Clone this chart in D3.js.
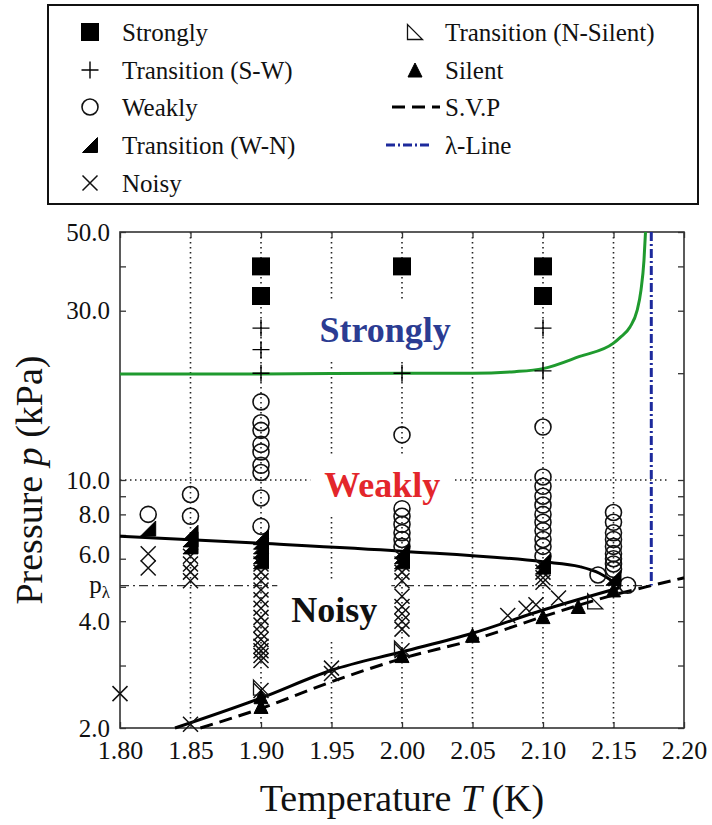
<!DOCTYPE html>
<html>
<head>
<meta charset="utf-8">
<script src="https://cdn.jsdelivr.net/npm/d3@7"></script>
<style>
  body { margin: 0; background: #fff; }
  text { font-family: "Liberation Serif", "DejaVu Serif", serif; }
</style>
</head>
<body>
<svg id="chart" width="712" height="825"></svg>
<script>
// ---- axis ticks ----
const xTickValues = [1.80, 1.85, 1.90, 1.95, 2.00, 2.05, 2.10, 2.15, 2.20];
const xTickLabels = ["1.80", "1.85", "1.90", "1.95", "2.00", "2.05", "2.10", "2.15", "2.20"];
const yTickValues = [2, 3, 4, 5, 6, 7, 8, 9, 10, 20, 30, 40, 50];
const yLabelValues = [2, 4, 6, 8, 10, 30, 50];
const yLabelTexts = ["2.0", "4.0", "6.0", "8.0", "10.0", "30.0", "50.0"];
const gridTemps = [1.85, 1.90, 1.95, 2.00, 2.05, 2.10, 2.15];
const pLambda = 5.04;   // kPa
const tLambda = 2.1768; // K

// ---- observed regimes (T in K, p in kPa) ----
const strongT = [1.90, 1.90, 2.00, 2.10, 2.10];
const strongP = [40, 33, 40, 40, 33];

const swT = [1.90, 1.90, 1.90, 2.00, 2.10, 2.10];
const swP = [26.8, 23.3, 20.0, 20.0, 26.8, 20.3];

const weakT = [1.82, 1.85, 1.85,
  1.90, 1.90, 1.90, 1.90, 1.90, 1.90, 1.90, 1.90, 1.90,
  2.00, 2.00, 2.00, 2.00, 2.00, 2.00, 2.00,
  2.10, 2.10, 2.10, 2.10, 2.10, 2.10, 2.10, 2.10, 2.10, 2.10, 2.10,
  2.15, 2.15, 2.15, 2.15, 2.15, 2.15, 2.15, 2.15, 2.15,
  2.139, 2.16];
const weakP = [8.0, 9.1, 7.9,
  16.6, 14.5, 13.8, 12.6, 12.0, 11.0, 10.5, 8.9, 7.4,
  13.4, 8.3, 7.9, 7.5, 7.1, 6.8, 6.5,
  14.1, 10.2, 9.6, 9.0, 8.5, 8.0, 7.6, 7.2, 6.8, 6.5, 6.1,
  8.1, 7.6, 7.1, 6.8, 6.5, 6.2, 6.0, 5.8, 5.6,
  5.4, 5.05];

const wnT = [1.82, 1.85, 1.85, 1.85, 1.90, 1.90, 1.90, 1.90, 1.90, 1.90,
  2.00, 2.00, 2.00, 2.10, 2.10, 2.15];
const wnP = [7.3, 7.1, 6.8, 6.5, 6.9, 6.7, 6.5, 6.3, 6.1, 5.9,
  6.3, 6.1, 5.9, 5.9, 5.7, 5.3];

const noisyT = [1.80, 1.82, 1.82, 1.85, 1.85, 1.85, 1.85, 1.85,
  1.90, 1.90, 1.90, 1.90, 1.90, 1.90, 1.90, 1.90, 1.90, 1.90, 1.90, 1.90, 1.90, 1.90, 1.90,
  1.95, 1.95,
  2.00, 2.00, 2.00, 2.00, 2.00, 2.00, 2.00, 2.00, 2.00,
  2.075, 2.088, 2.095, 2.10, 2.10, 2.10, 2.111];
const noisyP = [2.5, 6.2, 5.65, 6.1, 5.8, 5.5, 5.2, 2.05,
  5.8, 5.5, 5.2, 4.9, 4.6, 4.35, 4.1, 3.9, 3.7, 3.55, 3.4, 3.3, 3.2, 3.1, 2.55,
  2.95, 2.85,
  5.8, 5.5, 5.2, 4.7, 4.4, 4.2, 4.0, 3.8, 3.3,
  4.15, 4.35, 4.45, 5.5, 5.3, 5.15, 4.65];

const nsT = [1.90, 2.00, 2.137];
const nsP = [2.6, 3.35, 4.55];

const silentT = [1.90, 1.90, 2.00, 2.05, 2.10, 2.125, 2.15];
const silentP = [2.45, 2.3, 3.2, 3.65, 4.12, 4.4, 4.9];

// ---- boundary curves ----
const svpT = [1.857, 1.90, 1.95, 2.00, 2.05, 2.10, 2.15, 2.1768, 2.20];
const svpP = [2.0, 2.27, 2.70, 3.14, 3.54, 4.12, 4.74, 5.04, 5.30];
const wnLineT = [1.80, 1.90, 2.00, 2.10, 2.126, 2.14, 2.15, 2.155];
const wnLineP = [6.94, 6.63, 6.30, 5.88, 5.70, 5.46, 5.16, 4.98];
const nsLineT = [1.839, 1.90, 1.95, 2.00, 2.05, 2.10, 2.155];
const nsLineP = [2.0, 2.43, 2.91, 3.28, 3.70, 4.30, 4.98];
const swLineT = [1.80, 1.90, 2.00, 2.05, 2.08, 2.10, 2.126, 2.15, 2.1546, 2.1617, 2.1667, 2.1695, 2.1716, 2.1727];
const swLineP = [19.9, 19.9, 20.0, 20.0, 20.2, 20.6, 22.3, 24.3, 25.2, 27.0, 30.0, 34.3, 41.5, 50];

const legendLeft = ["Strongly", "Transition (S-W)", "Weakly", "Transition (W-N)", "Noisy"];
const legendRight = ["Transition (N-Silent)", "Silent", "S.V.P", "λ-Line"];

// ---- layout ----
const svg = d3.select("#chart");
const plot = { left: 120, right: 684, top: 232, bottom: 728 };
const x = d3.scaleLinear().domain([1.80, 2.20]).range([plot.left, plot.right]);
const y = d3.scaleLog().domain([2, 50]).range([plot.bottom, plot.top]);

const zip = (a, b) => a.map((v, i) => [v, b[i]]);

// marker shapes
const shapes = {
  square: s => `M${-s/2},${-s/2}h${s}v${s}h${-s}Z`,
  plus: s => `M${-s/2},0H${s/2}M0,${-s/2}V${s/2}`,
  circle: s => `M${s/2},0A${s/2},${s/2} 0 1,1 ${-s/2},0A${s/2},${s/2} 0 1,1 ${s/2},0Z`,
  wedge: s => `M${-s/2},${s/2}L${s/2},${s/2}L${s/2},${-s/2}Z`,
  times: s => `M${-s/2},${-s/2}L${s/2},${s/2}M${-s/2},${s/2}L${s/2},${-s/2}`,
  openWedge: s => `M${-s/2},${-s/2}L${-s/2},${s/2}L${s/2},${s/2}Z`,
  triangle: s => `M0,${-s/2}L${s/2},${s/2}L${-s/2},${s/2}Z`
};
const styles = {
  square: { size: 18, fill: "#000", stroke: "none", sw: 0 },
  plus: { size: 17, fill: "none", stroke: "#000", sw: 1.4 },
  circle: { size: 16, fill: "none", stroke: "#111", sw: 1.6 },
  wedge: { size: 15, fill: "#000", stroke: "#000", sw: 1 },
  times: { size: 15, fill: "none", stroke: "#111", sw: 1.5 },
  openWedge: { size: 15, fill: "none", stroke: "#111", sw: 1.3 },
  triangle: { size: 14, fill: "#000", stroke: "#000", sw: 1 }
};

// ---- gridlines ----
const grid = svg.append("g");
grid.selectAll("line.vg").data(gridTemps).join("line")
  .attr("x1", d => x(d)).attr("x2", d => x(d))
  .attr("y1", plot.top).attr("y2", plot.bottom)
  .attr("stroke", "#222").attr("stroke-width", 1.6).attr("stroke-dasharray", "1.5,3.5");
grid.append("line")
  .attr("x1", x(1.80)).attr("x2", x(2.19)).attr("y1", y(10)).attr("y2", y(10))
  .attr("stroke", "#222").attr("stroke-width", 1.6).attr("stroke-dasharray", "1.5,3.5");
grid.append("line")
  .attr("x1", x(1.80)).attr("x2", x(tLambda)).attr("y1", y(pLambda)).attr("y2", y(pLambda))
  .attr("stroke", "#333").attr("stroke-width", 1.3).attr("stroke-dasharray", "9,4,2,4");

// ---- region labels on white pads ----
const regions = [
  { text: "Strongly", t: 1.988, p: 26.5, color: "#2b3c92" },
  { text: "Weakly", t: 1.986, p: 9.7, color: "#e3262b" },
  { text: "Noisy", t: 1.952, p: 4.3, color: "#111" }
];
const regionG = svg.append("g");
regions.forEach(r => {
  const t = regionG.append("text")
    .attr("x", x(r.t)).attr("y", y(r.p))
    .attr("text-anchor", "middle").attr("dominant-baseline", "central")
    .attr("font-weight", "bold").attr("font-size", 36)
    .attr("fill", r.color).text(r.text);
  const b = t.node().getBBox();
  regionG.insert("rect", "text")
    .attr("x", b.x - 14).attr("y", b.y - 10)
    .attr("width", b.width + 28).attr("height", b.height + 20)
    .attr("fill", "#fff");
});

// ---- axes ----
const fmtY = d => {
  const i = yLabelValues.indexOf(d);
  return i >= 0 ? yLabelTexts[i] : (d === 5 ? "p" : "");
};
const axisStyle = g => {
  g.select(".domain").remove();
  g.selectAll(".tick line").attr("stroke", "#333").attr("stroke-width", 1.3);
  g.selectAll(".tick text").attr("font-size", 25).attr("fill", "#111")
    .attr("font-family", "'Liberation Serif', serif");
};
svg.append("g").attr("transform", `translate(0,${plot.bottom})`)
  .call(d3.axisBottom(x).tickValues(xTickValues)
    .tickFormat((d, i) => xTickLabels[i]).tickSizeInner(-6).tickSizeOuter(0).tickPadding(13))
  .call(axisStyle)
  .selectAll(".tick text").attr("font-size", 26);
svg.append("g").attr("transform", `translate(0,${plot.top})`)
  .call(d3.axisTop(x).tickValues(xTickValues).tickFormat("").tickSizeInner(-6).tickSizeOuter(0))
  .call(axisStyle);
const yAxisG = svg.append("g").attr("transform", `translate(${plot.left},0)`)
  .call(d3.axisLeft(y).tickValues(yTickValues).tickFormat(fmtY)
    .tickSizeInner(-6).tickSizeOuter(0).tickPadding(10))
  .call(axisStyle);
yAxisG.selectAll(".tick").filter(d => d === 6).select("text").attr("dy", "0.16em");
yAxisG.selectAll(".tick").filter(d => d === 5).select("text")
  .attr("dy", "0.24em")
  .append("tspan").attr("font-size", 17).attr("dy", "0.25em").text("λ");
svg.append("g").attr("transform", `translate(${plot.right},0)`)
  .call(d3.axisRight(y).tickValues(yTickValues).tickFormat("").tickSizeInner(-6).tickSizeOuter(0))
  .call(axisStyle);

svg.append("rect")
  .attr("x", plot.left).attr("y", plot.top)
  .attr("width", plot.right - plot.left).attr("height", plot.bottom - plot.top)
  .attr("fill", "none").attr("stroke", "#333").attr("stroke-width", 1.6);

// ---- boundary curves ----
const line = d3.line().x(d => x(d[0])).y(d => y(d[1])).curve(d3.curveMonotoneX);
const curves = svg.append("g").attr("fill", "none");
curves.append("path").attr("d", line(zip(swLineT, swLineP)))
  .attr("stroke", "#1f9a2e").attr("stroke-width", 3);
curves.append("path").attr("d", line(zip(svpT, svpP)))
  .attr("stroke", "#000").attr("stroke-width", 3).attr("stroke-dasharray", "13,7");
curves.append("path").attr("d", line(zip(wnLineT, wnLineP)))
  .attr("stroke", "#000").attr("stroke-width", 3);
curves.append("path").attr("d", line(zip(nsLineT, nsLineP)))
  .attr("stroke", "#000").attr("stroke-width", 3);
curves.append("line")
  .attr("x1", x(tLambda)).attr("x2", x(tLambda)).attr("y1", y(50)).attr("y2", y(pLambda))
  .attr("stroke", "#1d2a9c").attr("stroke-width", 3).attr("stroke-dasharray", "9,3,2,3");

// ---- markers ----
function drawSeries(kind, ts, ps) {
  const st = styles[kind];
  svg.append("g").selectAll("path").data(zip(ts, ps)).join("path")
    .attr("transform", d => `translate(${x(d[0])},${y(d[1])})`)
    .attr("d", shapes[kind](st.size))
    .attr("fill", st.fill).attr("stroke", st.stroke).attr("stroke-width", st.sw);
}
drawSeries("circle", weakT, weakP);
drawSeries("times", noisyT, noisyP);
drawSeries("wedge", wnT, wnP);
drawSeries("openWedge", nsT, nsP);
drawSeries("triangle", silentT, silentP);
drawSeries("plus", swT, swP);
drawSeries("square", strongT, strongP);

// ---- legend ----
const lg = svg.append("g");
lg.append("rect").attr("x", 48).attr("y", 5).attr("width", 650).attr("height", 199)
  .attr("fill", "#fff").attr("stroke", "#111").attr("stroke-width", 2);
const rowY = [32, 70, 107, 145, 183];
const leftKinds = ["square", "plus", "circle", "wedge", "times"];
legendLeft.forEach((label, i) => {
  const st = styles[leftKinds[i]];
  lg.append("path").attr("transform", `translate(90,${rowY[i]})`)
    .attr("d", shapes[leftKinds[i]](st.size))
    .attr("fill", st.fill).attr("stroke", st.stroke).attr("stroke-width", st.sw);
  lg.append("text").attr("x", 122).attr("y", rowY[i]).attr("dominant-baseline", "central")
    .attr("font-size", 25).attr("fill", "#111").text(label);
});
const rightKinds = ["openWedge", "triangle"];
legendRight.forEach((label, i) => {
  if (i < 2) {
    const st = styles[rightKinds[i]];
    lg.append("path").attr("transform", `translate(415,${rowY[i]})`)
      .attr("d", shapes[rightKinds[i]](st.size))
      .attr("fill", st.fill).attr("stroke", st.stroke).attr("stroke-width", st.sw);
  } else if (i === 2) {
    lg.append("line").attr("x1", 392).attr("x2", 440).attr("y1", rowY[i]).attr("y2", rowY[i])
      .attr("stroke", "#000").attr("stroke-width", 3).attr("stroke-dasharray", "13,7");
  } else {
    lg.append("line").attr("x1", 386).attr("x2", 432).attr("y1", rowY[i]).attr("y2", rowY[i])
      .attr("stroke", "#1d2a9c").attr("stroke-width", 3).attr("stroke-dasharray", "9,3,2,3");
  }
  lg.append("text").attr("x", 445).attr("y", rowY[i]).attr("dominant-baseline", "central")
    .attr("font-size", 25).attr("fill", "#111").text(label);
});

// ---- axis titles ----
const yTitle = svg.append("text")
  .attr("transform", `translate(29,${(plot.top + plot.bottom) / 2}) rotate(-90)`)
  .attr("text-anchor", "middle").attr("dominant-baseline", "central")
  .attr("font-size", 38).attr("fill", "#111");
yTitle.append("tspan").text("Pressure ");
yTitle.append("tspan").attr("font-style", "italic").text("p");
yTitle.append("tspan").text(" (kPa)");

const xTitle = svg.append("text")
  .attr("x", (plot.left + plot.right) / 2).attr("y", 798)
  .attr("text-anchor", "middle").attr("dominant-baseline", "central")
  .attr("font-size", 38).attr("fill", "#111");
xTitle.append("tspan").text("Temperature ");
xTitle.append("tspan").attr("font-style", "italic").text("T");
xTitle.append("tspan").text(" (K)");
</script>
</body>
</html>
